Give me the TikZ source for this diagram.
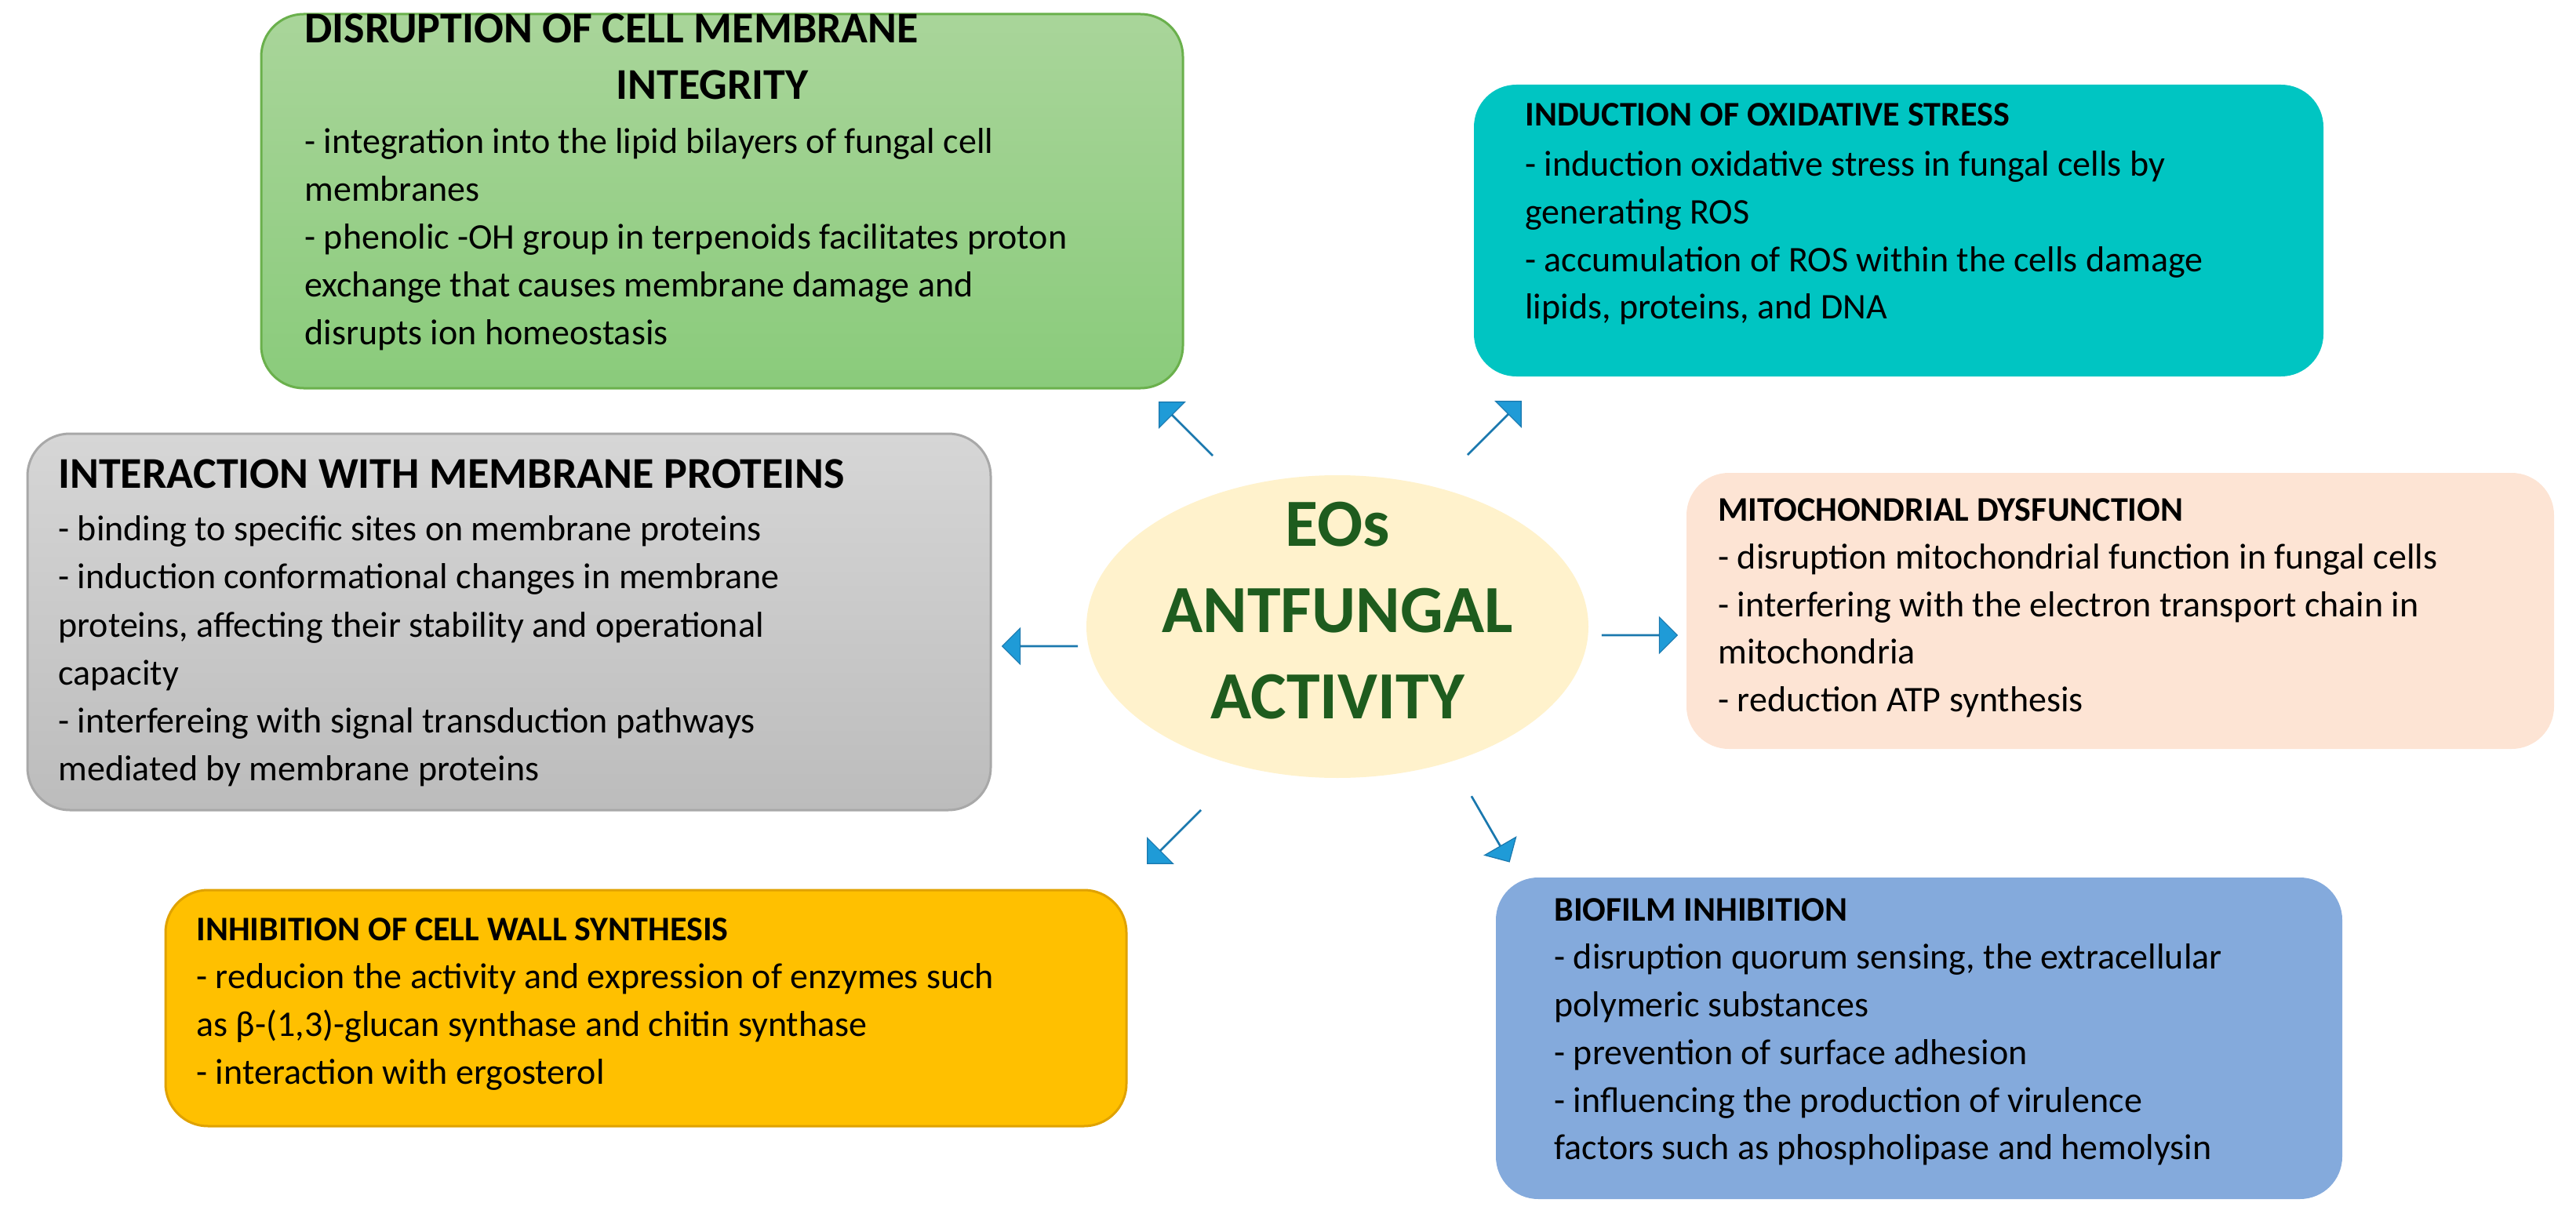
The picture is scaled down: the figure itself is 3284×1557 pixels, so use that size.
\documentclass[tikz,border=0pt]{standalone}
\usepackage{fontspec}
\setmainfont{Carlito}
\usetikzlibrary{shapes.arrows,shapes.geometric}
\definecolor{gtop}{HTML}{A9D59A}\definecolor{gbot}{HTML}{8ACB7B}\definecolor{gbor}{HTML}{6AB04C}
\definecolor{rtop}{HTML}{D6D6D6}\definecolor{rbot}{HTML}{BCBCBC}\definecolor{rbor}{HTML}{A8A8A8}
\definecolor{teal}{HTML}{00C5C2}\definecolor{peach}{HTML}{FDE4D4}
\definecolor{orng}{HTML}{FFC000}\definecolor{orbor}{HTML}{E0A200}
\definecolor{blu}{HTML}{84AADC}\definecolor{ell}{HTML}{FFF2CC}
\definecolor{dgreen}{HTML}{1E5C1E}\definecolor{arr}{HTML}{1F9BD7}\definecolor{arrb}{HTML}{1A78AE}
\tikzset{
 box/.style={rounded corners=27pt},
 body/.style={anchor=mid west,inner sep=0pt,font=\fontsize{23pt}{28pt}\selectfont},
 headS/.style={anchor=mid west,inner sep=0pt,font=\fontsize{22pt}{26pt}\selectfont\bfseries},
 headL/.style={anchor=mid west,inner sep=0pt,font=\fontsize{28pt}{32pt}\selectfont\bfseries},
 ctr/.style={inner sep=0pt,text=dgreen,font=\fontsize{43pt}{50pt}\selectfont\bfseries},
 barrow/.style={single arrow,fill=arr,draw=arrb,line width=0.6pt,inner sep=0pt,
   minimum height=48pt,minimum width=23pt,single arrow head extend=9pt}
}
\begin{document}
\begin{tikzpicture}[x=0.5pt,y=-0.5pt]
\useasboundingbox (0,0) rectangle (3284,1557);
% boxes
\draw[box,top color=gtop,bottom color=gbot,draw=gbor,line width=1.5pt] (333,18) rectangle (1508,495);
\fill[box,teal] (1879,108) rectangle (2962,480);
\draw[box,top color=rtop,bottom color=rbot,draw=rbor,line width=1.5pt] (35,553) rectangle (1263,1033);
\fill[box,peach] (2150,603) rectangle (3256,955);
\draw[box,fill=orng,draw=orbor,line width=1.5pt] (211,1135) rectangle (1436,1436);
\fill[box,blu] (1907,1119) rectangle (2986,1529);
% center
\node[ellipse,fill=ell,minimum width=640pt*0.5,minimum height=386pt*0.5,inner sep=0pt] (c) at (1705,799) {};
\node[ctr] (c1) at (1705,669) {EOs};
\node[ctr] (c2) at (1705,779) {ANTFUNGAL};
\node[ctr] (c3) at (1705,889) {ACTIVITY};
% arrows
\node[barrow,rotate=135] (a1) at (1512,547) {};
\node[barrow,rotate=45] (a2) at (1905,546) {};
\node[barrow,rotate=180] (a3) at (1326,824) {};
\node[barrow,rotate=0] (a4) at (2090,810) {};
\node[barrow,rotate=225] (a5) at (1497,1067) {};
\node[barrow,rotate=-60] (a6) at (1900,1057) {};
% green
\node[headL] (gh1) at (388,50) {DISRUPTION OF CELL MEMBRANE};
\node[headL,anchor=mid] (gh2) at (908,122) {INTEGRITY};
\foreach \t [count=\i] in {{- integration into the lipid bilayers of fungal cell},{membranes},{- phenolic -OH group in terpenoids facilitates proton},{exchange that causes membrane damage and},{disrupts ion homeostasis}}
  \node[body] (g\i) at (388,{191+61*(\i-1)}) {\t};
% teal
\node[headS] (th) at (1944,156) {INDUCTION OF OXIDATIVE STRESS};
\foreach \t [count=\i] in {{- induction oxidative stress in fungal cells by},{generating ROS},{- accumulation of ROS within the cells damage},{lipids, proteins, and DNA}}
  \node[body] (t\i) at (1944,{220+60.7*(\i-1)}) {\t};
% gray
\node[headL] (rh) at (74,618) {INTERACTION WITH MEMBRANE PROTEINS};
\foreach \t [count=\i] in {{- binding to specific sites on membrane proteins},{- induction conformational changes in membrane},{proteins, affecting their stability and operational},{capacity},{- interfereing with signal transduction pathways},{mediated by membrane proteins}}
  \node[body] (r\i) at (74,{685+61.2*(\i-1)}) {\t};
% peach
\node[headS] (ph) at (2190,660) {MITOCHONDRIAL DYSFUNCTION};
\foreach \t [count=\i] in {{- disruption mitochondrial function in fungal cells},{- interfering with the electron transport chain in},{mitochondria},{- reduction ATP synthesis}}
  \node[body] (p\i) at (2190,{721+60.5*(\i-1)}) {\t};
% orange
\node[headS] (oh) at (250,1195) {INHIBITION OF CELL WALL SYNTHESIS};
\foreach \t [count=\i] in {{- reducion the activity and expression of enzymes such},{as β-(1,3)-glucan synthase and chitin synthase},{- interaction with ergosterol}}
  \node[body] (o\i) at (250,{1256+61*(\i-1)}) {\t};
% blue
\node[headS] (bh) at (1981,1170) {BIOFILM INHIBITION};
\foreach \t [count=\i] in {{- disruption quorum sensing, the extracellular},{polymeric substances},{- prevention of surface adhesion},{- influencing the production of virulence},{factors such as phospholipase and hemolysin}}
  \node[body] (b\i) at (1981,{1231+60.8*(\i-1)}) {\t};
\end{tikzpicture}
\end{document}
